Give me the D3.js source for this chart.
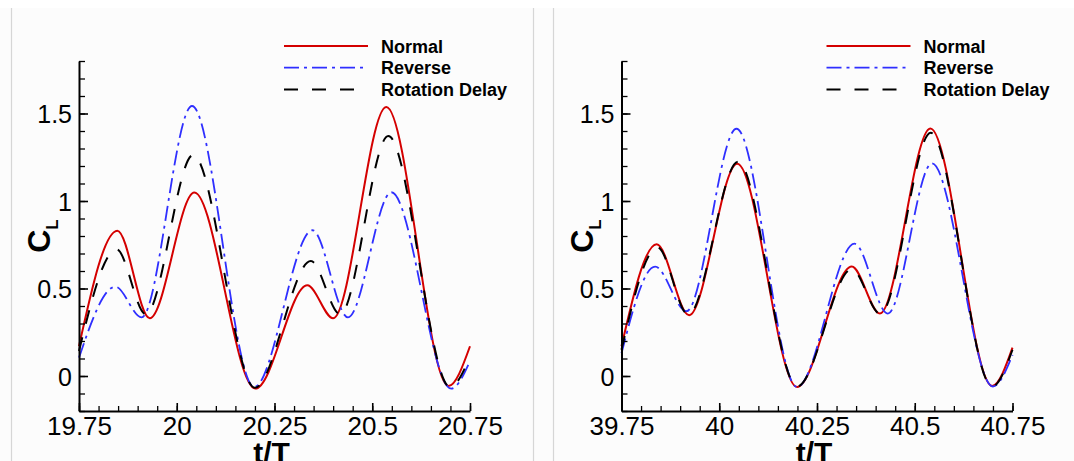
<!DOCTYPE html>
<html>
<head>
<meta charset="utf-8">
<script src="https://cdn.jsdelivr.net/npm/d3@7.9.0/dist/d3.min.js"></script>
<style>
  html, body { margin: 0; padding: 0; background: #ffffff; }
  svg { display: block; font-family: "Liberation Sans", Arial, sans-serif; }
</style>
</head>
<body>
<div id="chart"></div>
<script>
// Series names and styles in the legend
const seriesNames = ['Normal', 'Reverse', 'Rotation Delay'];

// C_L vs t/T, key points: [t/T, C_L]
// Left panel (19.75 - 20.75)
const normalLeft = [
  [19.75, 0.17], [19.848, 0.83], [19.931, 0.33], [20.045, 1.048],
  [20.201, -0.072], [20.334, 0.518], [20.40, 0.33], [20.536, 1.537],
  [20.695, -0.057], [20.75, 0.17]
];
const reverseLeft = [
  [19.75, 0.105], [19.843, 0.51], [19.91, 0.335], [20.039, 1.543],
  [20.198, -0.063], [20.347, 0.833], [20.438, 0.335], [20.549, 1.05],
  [20.702, -0.072], [20.75, 0.086]
];
const delayLeft = [
  [19.75, 0.143], [19.846, 0.724], [19.921, 0.353], [20.042, 1.263],
  [20.20, -0.067], [20.343, 0.657], [20.418, 0.353], [20.541, 1.371],
  [20.699, -0.063], [20.75, 0.11]
];

// Right panel (39.75 - 40.75)
const normalRight = [
  [39.75, 0.17], [39.84, 0.753], [39.923, 0.347], [40.046, 1.213],
  [40.199, -0.063], [40.339, 0.625], [40.411, 0.357], [40.54, 1.415],
  [40.698, -0.057], [40.75, 0.162]
];
const reverseRight = [
  [39.75, 0.13], [39.836, 0.625], [39.916, 0.37], [40.044, 1.413],
  [40.199, -0.063], [40.346, 0.756], [40.431, 0.357], [40.544, 1.215],
  [40.70, -0.06], [40.75, 0.12]
];
const delayRight = [
  [39.75, 0.15], [39.842, 0.735], [39.921, 0.35], [40.048, 1.225],
  [40.199, -0.06], [40.339, 0.61], [40.412, 0.355], [40.541, 1.39],
  [40.698, -0.06], [40.75, 0.15]
];

// Tick labels
const xTicksLeft = [19.75, 20, 20.25, 20.5, 20.75];
const xTicksRight = [39.75, 40, 40.25, 40.5, 40.75];
const yTicks = [0, 0.5, 1, 1.5];

const width = 1074;
const height = 461;

const styles = [
  { color: '#d40000', dash: null, width: 2 },
  { color: '#2f2fff', dash: '15,5,3,5', width: 1.8 },
  { color: '#000000', dash: '14,14', width: 2 }
];

const svg = d3.select('#chart')
  .append('svg')
  .attr('width', width)
  .attr('height', height);

// Background panels
svg.append('rect').attr('x', 0).attr('y', 8).attr('width', width).attr('height', height - 8).attr('fill', '#fcfcfc');
[11.5, 533.5, 553.5].forEach(x => {
  svg.append('line')
    .attr('x1', x).attr('x2', x).attr('y1', 8).attr('y2', height)
    .attr('stroke', '#d6d6d6').attr('stroke-width', 1.2);
});

function drawPanel(left, xTicks, series) {
  const plotTop = 61;
  const plotBottom = 411;
  const plotWidth = 391;

  const xScale = d3.scaleLinear()
    .domain([xTicks[0], xTicks[xTicks.length - 1]])
    .range([left, left + plotWidth]);
  const yScale = d3.scaleLinear()
    .domain([-0.2, 1.8])
    .range([plotBottom, plotTop]);

  const g = svg.append('g');

  // Curves
  const line = d3.line()
    .x(d => xScale(d[0]))
    .y(d => yScale(d[1]))
    .curve(d3.curveMonotoneX);

  const lines = g.append('g').attr('class', 'curves');
  series.forEach((s, i) => {
    lines.append('path')
      .attr('d', line(s))
      .attr('fill', 'none')
      .attr('stroke', styles[i].color)
      .attr('stroke-width', styles[i].width)
      .attr('stroke-dasharray', styles[i].dash);
  });

  // Minor ticks
  const xMinor = d3.range(0, 21).map(k => xTicks[0] + k * 0.05);
  const yMinor = d3.range(0, 21).map(k => -0.2 + k * 0.1);

  g.append('g')
    .attr('transform', `translate(0, ${plotBottom})`)
    .call(d3.axisBottom(xScale).tickValues(xMinor).tickFormat('').tickSize(-5).tickSizeOuter(0))
    .call(a => a.select('.domain').remove())
    .call(a => a.selectAll('line').attr('stroke-width', 1.3));

  g.append('g')
    .attr('transform', `translate(${left}, 0)`)
    .call(d3.axisLeft(yScale).tickValues(yMinor).tickFormat('').tickSize(-6).tickSizeOuter(0))
    .call(a => a.select('.domain').remove())
    .call(a => a.selectAll('line').attr('stroke-width', 1.3));

  // Major axes
  const xAxis = g.append('g')
    .attr('transform', `translate(0, ${plotBottom})`)
    .call(d3.axisBottom(xScale).tickValues(xTicks).tickFormat(d => String(d)).tickSize(-8).tickSizeOuter(0).tickPadding(0));
  xAxis.select('.domain').attr('stroke-width', 2);
  xAxis.selectAll('line').attr('stroke-width', 1.6);
  xAxis.selectAll('text')
    .attr('y', 24).attr('dy', 0)
    .attr('font-size', 26)
    .attr('font-family', '"Liberation Sans", Arial, sans-serif')
    .attr('fill', '#000');

  const yAxis = g.append('g')
    .attr('transform', `translate(${left}, 0)`)
    .call(d3.axisLeft(yScale).tickValues(yTicks).tickFormat(d => String(d)).tickSize(-9).tickSizeOuter(0).tickPadding(7));
  yAxis.select('.domain').attr('stroke-width', 2);
  yAxis.selectAll('line').attr('stroke-width', 1.6);
  yAxis.selectAll('text')
    .attr('font-size', 25)
    .attr('dy', '0.36em')
    .attr('font-family', '"Liberation Sans", Arial, sans-serif')
    .attr('fill', '#000');

  // Axis titles (the reference crops t/T at the bottom edge)
  g.append('text')
    .attr('x', left + plotWidth / 2 - 3)
    .attr('y', 463)
    .attr('text-anchor', 'middle')
    .attr('font-size', 30)
    .attr('font-weight', 'bold')
    .text('t/T');

  const yt = g.append('text')
    .attr('transform', `translate(${left - 29}, 236) rotate(-90)`)
    .attr('text-anchor', 'middle')
    .attr('font-size', 32)
    .attr('font-weight', 'bold');
  yt.append('tspan').text('C');
  yt.append('tspan').attr('font-size', 17).attr('dy', 8).text('L');

  // Legend
  const lg = g.append('g').attr('transform', `translate(${left + 205}, 46)`);
  seriesNames.forEach((name, i) => {
    const row = lg.append('g').attr('transform', `translate(0, ${i * 21.7})`);
    row.append('line')
      .attr('x1', 0).attr('x2', 84).attr('y1', 0).attr('y2', 0)
      .attr('stroke', styles[i].color)
      .attr('stroke-width', styles[i].width)
      .attr('stroke-dasharray', styles[i].dash);
    row.append('text')
      .attr('x', 97).attr('y', 6.5)
      .attr('font-size', 18)
      .attr('font-weight', 'bold')
      .text(name);
  });
}

drawPanel(79, xTicksLeft, [normalLeft, reverseLeft, delayLeft]);
drawPanel(621.5, xTicksRight, [normalRight, reverseRight, delayRight]);
</script>
</body>
</html>
